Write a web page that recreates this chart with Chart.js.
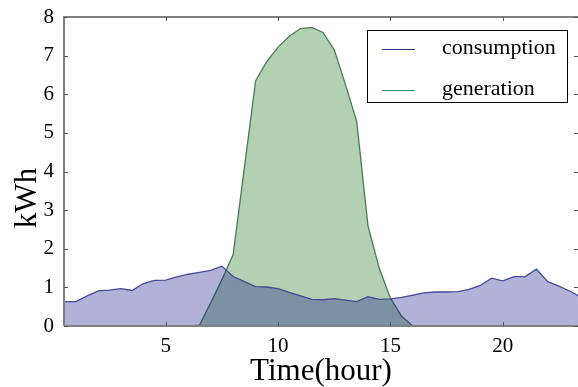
<!DOCTYPE html>
<html>
<head>
<meta charset="utf-8">
<script src="https://cdn.jsdelivr.net/npm/chart.js@4"></script>
<style>
  html, body { margin: 0; padding: 0; background: #fff; }
  #wrap { width: 578px; height: 387px; }
</style>
</head>
<body>
<div id="wrap"><canvas id="chart" width="578" height="387"></canvas></div>
<script>
// half-hourly readings
const hours = [0.5, 1, 1.5, 2, 2.5, 3, 3.5, 4, 4.5, 5, 5.5, 6, 6.5, 7, 7.5, 8,
  8.5, 9, 9.5, 10, 10.5, 11, 11.5, 12, 12.5, 13, 13.5, 14, 14.5, 15, 15.5, 16,
  16.5, 17, 17.5, 18, 18.5, 19, 19.5, 20, 20.5, 21, 21.5, 22, 22.5, 23, 23.5]

const consumption = [0.63, 0.63, 0.78, 0.91, 0.93, 0.97, 0.92, 1.10, 1.18, 1.19, 1.27, 1.34, 1.39, 1.44, 1.55, 1.28,
  1.15, 1.02, 1.01, 0.97, 0.87, 0.78, 0.69, 0.68, 0.71, 0.67, 0.63, 0.76, 0.69, 0.70, 0.74, 0.80,
  0.86, 0.88, 0.88, 0.89, 0.95, 1.05, 1.24, 1.17, 1.28, 1.28, 1.47, 1.15, 1.03, 0.90, 0.74]

const generation = [0, 0, 0, 0, 0, 0, 0, 0, 0, 0, 0, 0, 0.02, 0.6, 1.2, 1.85,
  4.1, 6.35, 6.85, 7.22, 7.5, 7.7, 7.73, 7.6, 7.15, 6.25, 5.3, 2.6, 1.5, 0.72, 0.25, 0,
  0, 0, 0, 0, 0, 0, 0, 0, 0, 0, 0, 0, 0, 0, 0]

const xTicks = [5, 10, 15, 20]
const yTicks = [0, 1, 2, 3, 4, 5, 6, 7, 8]

const serif = "'Liberation Serif', 'DejaVu Serif', serif"

// matplotlib-like frame with inward ticks
const framePlugin = {
  id: "frame",
  afterDraw(chart) {
    const { ctx, chartArea: a, scales } = chart
    ctx.save()
    ctx.strokeStyle = "#808080"
    ctx.lineWidth = 2
    ctx.beginPath()
    ctx.moveTo(a.left, a.bottom)
    ctx.lineTo(a.left, a.top)
    ctx.lineTo(a.right + 2, a.top)
    ctx.moveTo(a.left, a.bottom)
    ctx.lineTo(a.right + 2, a.bottom)
    ctx.stroke()

    ctx.strokeStyle = "#555"
    ctx.lineWidth = 1
    ctx.beginPath()
    xTicks.forEach(v => {
      const x = Math.round(scales.x.getPixelForValue(v)) + 0.5
      ctx.moveTo(x, a.bottom); ctx.lineTo(x, a.bottom - 4)
      ctx.moveTo(x, a.top); ctx.lineTo(x, a.top + 4)
    })
    yTicks.forEach(v => {
      const y = Math.round(scales.y.getPixelForValue(v)) + 0.5
      ctx.moveTo(a.left, y); ctx.lineTo(a.left + 4, y)
      ctx.moveTo(a.right, y); ctx.lineTo(a.right - 4, y)
    })
    ctx.stroke()
    ctx.restore()
  }
}

const yTitlePlugin = {
  id: "yTitle",
  afterDraw(chart) {
    const { ctx } = chart
    ctx.save()
    ctx.translate(36, 198)
    ctx.rotate(-Math.PI / 2)
    ctx.font = "31px " + serif
    ctx.fillStyle = "#000"
    ctx.textAlign = "center"
    ctx.textBaseline = "alphabetic"
    ctx.fillText("kWh", 0, 0)
    ctx.restore()
  }
}

const legendBoxPlugin = {
  id: "legendBox",
  afterDraw(chart) {
    const { ctx } = chart
    ctx.save()
    ctx.fillStyle = "#fff"
    ctx.fillRect(367, 30, 201, 73)
    ctx.strokeStyle = "#000"
    ctx.lineWidth = 1
    ctx.strokeRect(367.5, 30.5, 200, 72)
    const rows = [49.5, 90.5]
    chart.data.datasets.forEach((ds, i) => {
      ctx.strokeStyle = ds.legendColor
      ctx.lineWidth = 1
      ctx.beginPath()
      ctx.moveTo(382, rows[i]); ctx.lineTo(415, rows[i])
      ctx.stroke()
      ctx.fillStyle = "#000"
      ctx.font = "22px " + serif
      ctx.textBaseline = "alphabetic"
      ctx.fillText(ds.label, 442, rows[i] + 4.5)
    })
    ctx.restore()
  }
}

new Chart(document.getElementById("chart"), {
  type: "line",
  data: {
    datasets: [{
      label: "consumption",
      data: hours.map((h, i) => ({ x: h, y: consumption[i] })),
      borderColor: "#454a9a",
      legendColor: "#2c3478",
      backgroundColor: "rgba(0, 0, 128, 0.3)",
      borderWidth: 1.3,
      pointRadius: 0,
      fill: "origin"
    }, {
      label: "generation",
      data: hours.map((h, i) => ({ x: h, y: generation[i] })),
      borderColor: "#4c7c52",
      legendColor: "#3c8c78",
      backgroundColor: "rgba(0, 100, 0, 0.3)",
      borderWidth: 1.3,
      pointRadius: 0,
      fill: "origin"
    }]
  },
  options: {
    responsive: false,
    animation: false,
    layout: { padding: { top: 17, right: 0, left: 0, bottom: 0 } },
    plugins: {
      legend: { display: false },
      tooltip: { enabled: false }
    },
    scales: {
      x: {
        type: "linear",
        min: 0.47,
        max: 23.35,
        grid: { display: false },
        border: { display: false },
        afterBuildTicks: s => { s.ticks = xTicks.map(v => ({ value: v })) },
        afterFit: s => { s.height = 61 },
        ticks: {
          font: { family: serif, size: 21 },
          color: "#000",
          padding: 0,
          maxRotation: 0
        },
        title: {
          display: true,
          text: "Time(hour)",
          font: { family: serif, size: 31, lineHeight: 1 },
          color: "#000",
          padding: 0
        }
      },
      y: {
        min: 0,
        max: 8,
        grid: { display: false },
        border: { display: false },
        afterBuildTicks: s => { s.ticks = yTicks.map(v => ({ value: v })) },
        afterFit: s => { s.width = 64 },
        ticks: {
          font: { family: serif, size: 21 },
          color: "#000",
          padding: 2
        }
      }
    }
  },
  plugins: [framePlugin, yTitlePlugin, legendBoxPlugin]
})
</script>
</body>
</html>
